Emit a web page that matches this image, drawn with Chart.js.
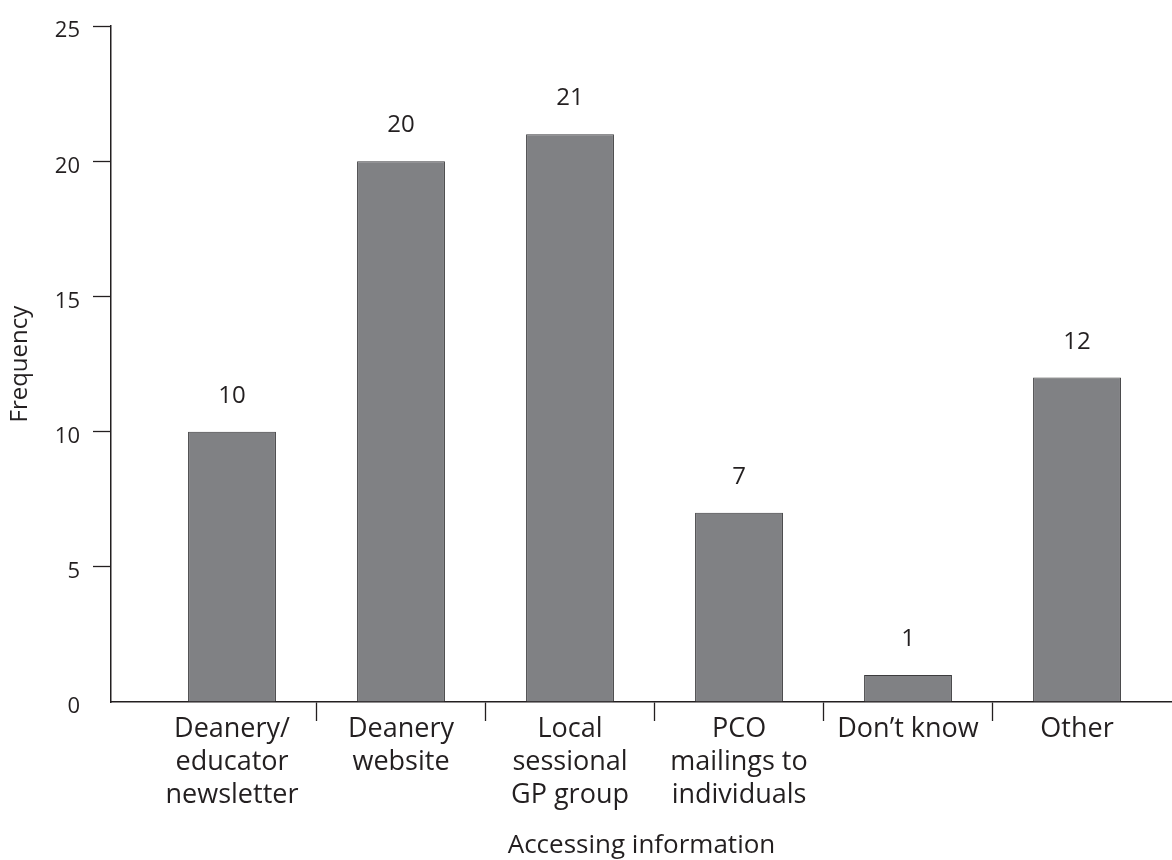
<!DOCTYPE html>
<html>
<head>
<meta charset="utf-8">
<script src="https://cdn.jsdelivr.net/npm/chart.js@4.4.1/dist/chart.umd.min.js"></script>
<style>
  html, body { margin: 0; padding: 0; background: #fff; }
  #wrap { width: 1172px; height: 860px; }
</style>
</head>
<body>
<div id="wrap"><canvas id="accessChart" width="1172" height="860"></canvas></div>
<script>
const categories = [
  ["Deanery/", "educator", "newsletter"],
  ["Deanery", "website"],
  ["Local", "sessional", "GP group"],
  ["PCO", "mailings to", "individuals"],
  ["Don’t know"],
  ["Other"]
];
const frequency = [10, 20, 21, 7, 1, 12];
const yTicks = [0, 5, 10, 15, 20, 25];

const ink = "#231f20";
const clear = "rgba(0,0,0,0)";
const family = "'Open Sans', sans-serif";

// numbers above the bars
const valueLabels = {
  id: "valueLabels",
  afterDatasetsDraw(chart) {
    const ctx = chart.ctx;
    const meta = chart.getDatasetMeta(0);
    ctx.save();
    ctx.fillStyle = ink;
    ctx.font = "24px " + family;
    ctx.textAlign = "center";
    ctx.textBaseline = "alphabetic";
    meta.data.forEach((bar, i) => {
      ctx.fillText(String(frequency[i]), bar.x, bar.y - 29);
    });
    ctx.restore();
  }
};

const ctx = document.getElementById("accessChart").getContext("2d");

new Chart(ctx, {
  type: "bar",
  data: {
    datasets: [
      {
        data: frequency.map((v, i) => ({ x: i, y: v })),
        backgroundColor: "#808184",
        borderColor: "#3c3c3e",
        borderWidth: 1,
        barPercentage: 0.52,
        categoryPercentage: 1
      }
    ]
  },
  options: {
    responsive: false,
    animation: false,
    layout: { padding: { top: 22, right: 0, bottom: 0, left: 0 } },
    plugins: {
      legend: { display: false },
      tooltip: { enabled: false }
    },
    scales: {
      x: {
        type: "linear",
        offset: false,
        min: -0.716,
        max: 5.562,
        afterBuildTicks: axis => {
          axis.ticks = categories.map((c, i) => ({ value: i }));
        },
        afterFit: axis => { axis.height = 158; },
        ticks: {
          autoSkip: false,
          maxRotation: 0,
          padding: -8,
          color: ink,
          font: { family, size: 27, lineHeight: 1.22 },
          callback: (value, index) => categories[index]
        },
        grid: {
          offset: true,
          drawOnChartArea: false,
          tickLength: 19,
          tickWidth: 1.3,
          tickColor: c => (c.index >= 1 && c.index <= 5 ? ink : clear)
        },
        border: { color: ink, width: 1.5 },
        title: {
          display: true,
          text: "Accessing information",
          color: ink,
          font: { family, size: 26 },
          padding: { top: 0, bottom: -1 }
        }
      },
      y: {
        min: 0,
        max: 25,
        afterBuildTicks: axis => {
          axis.ticks = yTicks.map(v => ({ value: v }));
        },
        afterFit: axis => { axis.width = 111; },
        ticks: {
          padding: 13,
          labelOffset: 5,
          color: ink,
          font: { family, size: 22 }
        },
        grid: {
          drawOnChartArea: false,
          tickLength: 18,
          tickWidth: 1.3,
          tickColor: c => (c.tick && c.tick.value === 0 ? clear : ink)
        },
        border: { color: ink, width: 1.5 },
        title: {
          display: true,
          text: "Frequency",
          color: ink,
          font: { family, size: 24 },
          padding: { top: 6, bottom: 0 }
        }
      }
    }
  },
  plugins: [valueLabels]
});
</script>
</body>
</html>
